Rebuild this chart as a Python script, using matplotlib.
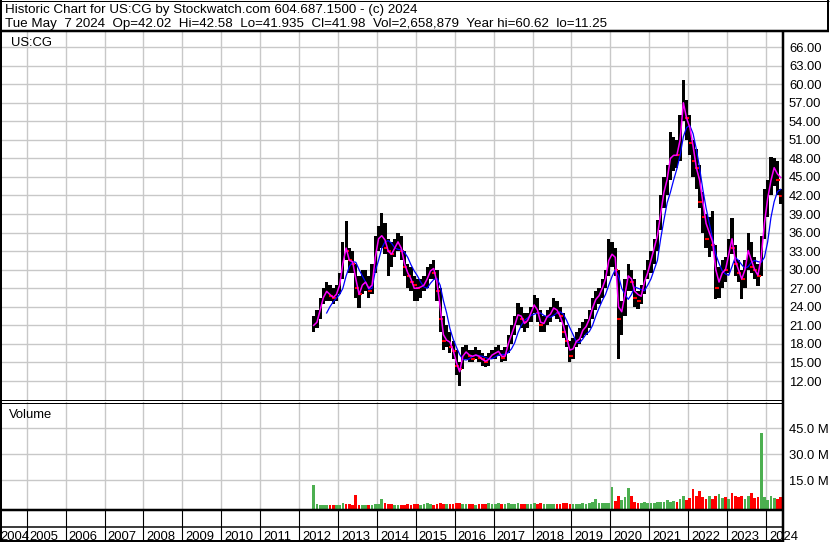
import numpy as np
import matplotlib
matplotlib.use("Agg")
import matplotlib.pyplot as plt
from matplotlib.lines import Line2D
from matplotlib.transforms import offset_copy

plt.rcParams['font.family'] = ['Liberation Sans', 'DejaVu Sans']

W, H = 830, 543

# monthly readings, May 2012 .. May 2024
first_year, first_month = 2012, 5

high = [22.5, 23.5, 25.5, 27.0, 28.0, 27.5, 27.0, 27.5,
        29.5, 34.5, 37.8, 33.5, 33.0, 31.0, 29.0, 30.0, 30.0, 29.0, 31.0, 35.5,
        37.0, 39.2, 37.5, 35.0, 34.5, 35.0, 36.0, 35.5, 33.0, 31.0, 30.5, 29.0,
        28.5, 28.5, 29.0, 30.5, 31.0, 31.6, 30.0, 27.0, 22.5, 21.0, 20.0, 18.5,
        17.0, 15.0, 17.5, 17.8, 17.0, 17.0, 17.5, 17.0, 16.5, 16.0, 16.5, 17.0,
        17.5, 17.8, 17.0, 17.5, 19.5, 21.0, 22.5, 24.6, 24.0, 23.0, 23.0, 24.0,
        25.9, 25.5, 23.5, 22.5, 23.5, 24.0, 25.4, 25.0, 24.0, 23.0, 21.0, 18.5,
        19.0, 20.0, 20.5, 21.5, 22.0, 23.5, 25.5, 26.5, 27.0, 28.5, 30.0, 34.9,
        34.5, 33.5, 30.0, 25.0, 28.5, 31.0, 30.0, 28.5, 26.5, 27.5, 30.0, 31.5,
        33.0, 35.0, 38.0, 42.0, 45.0, 47.0, 52.2, 51.5, 51.0, 55.0, 60.6, 57.5,
        55.0, 51.0, 49.5, 47.0, 42.5, 39.0, 38.5, 39.5, 34.0, 30.5, 31.5, 32.0,
        35.0, 38.4, 34.0, 31.5, 30.0, 31.5, 36.0, 34.5, 32.0, 31.0, 35.5, 43.0,
        44.5, 48.3, 48.0, 47.5, 43.0]

low = [20.0, 20.5, 22.0, 24.5, 25.0, 25.0, 24.5, 25.0,
       26.0, 28.5, 31.5, 29.5, 29.5, 25.5, 23.8, 26.0, 26.5, 25.5, 26.0, 29.5,
       33.0, 33.5, 32.5, 29.0, 30.5, 32.0, 33.0, 31.5, 29.0, 27.0, 26.5, 25.0,
       25.0, 25.5, 26.5, 27.0, 28.5, 28.5, 25.0, 20.0, 17.0, 17.5, 16.5, 15.5,
       13.0, 11.25, 14.0, 15.5, 15.0, 15.0, 15.5, 15.0, 14.5, 14.3, 14.5, 15.5,
       15.5, 16.0, 15.0, 15.2, 16.5, 18.0, 19.5, 21.0, 20.5, 20.0, 20.5, 21.5,
       23.0, 21.5, 20.0, 20.0, 21.0, 21.5, 22.5, 22.0, 21.5, 19.0, 17.5, 15.0,
       15.5, 17.5, 18.0, 19.0, 19.5, 20.5, 22.0, 23.5, 24.5, 25.5, 27.0, 29.0,
       30.5, 29.0, 15.5, 19.5, 22.5, 26.5, 26.5, 24.0, 23.6, 24.5, 26.0, 28.5,
       29.5, 31.0, 33.0, 36.5, 40.0, 42.0, 44.5, 46.0, 46.5, 47.5, 54.0, 51.0,
       48.5, 45.0, 43.0, 40.0, 36.0, 33.5, 32.0, 33.0, 25.3, 25.5, 27.0, 28.0,
       29.5, 32.5, 29.0, 28.0, 25.3, 27.0, 30.0, 29.5, 28.5, 27.4, 29.0, 35.0,
       38.5, 42.0, 43.5, 42.0, 40.6]

close = [21.0, 22.5, 24.5, 26.0, 26.5, 25.8, 25.5, 26.5,
         29.0, 33.5, 33.0, 31.5, 31.0, 27.0, 26.0, 28.0, 28.5, 26.5, 30.0, 34.5,
         35.0, 36.0, 33.5, 33.0, 32.5, 34.0, 34.0, 33.0, 30.5, 29.0, 28.0, 27.5,
         27.0, 27.5, 28.0, 29.5, 30.5, 29.5, 26.5, 22.0, 18.5, 19.5, 17.5, 16.8,
         14.5, 14.0, 16.5, 16.5, 16.0, 15.5, 16.5, 15.8, 15.5, 15.0, 16.0, 16.5,
         16.5, 16.8, 15.8, 17.0, 19.0, 20.0, 21.5, 23.0, 22.0, 21.5, 22.5, 23.0,
         25.0, 23.0, 21.0, 21.5, 22.5, 23.0, 24.0, 23.0, 22.5, 20.0, 18.5, 16.0,
         18.0, 19.0, 19.5, 21.0, 21.0, 22.5, 25.0, 25.5, 26.0, 28.0, 29.5, 32.0,
         32.5, 30.0, 22.0, 23.5, 27.0, 28.5, 28.0, 25.5, 25.0, 26.5, 29.5, 31.0,
         32.5, 34.0, 37.0, 41.0, 44.0, 46.0, 48.5, 49.0, 48.5, 53.0, 57.0, 54.5,
         50.5, 47.5, 46.5, 41.0, 38.5, 35.0, 36.0, 34.0, 27.0, 29.0, 30.5, 30.0,
         34.5, 33.5, 31.0, 29.5, 28.5, 30.5, 34.0, 30.5, 30.0, 29.0, 35.0, 40.5,
         42.0, 46.5, 46.5, 44.5, 41.98]

ma_fast = [21.0, 21.5, 23.5, 25.5, 26.5, 26.0, 25.5, 26.0,
           27.5, 31.0, 33.5, 31.5, 31.3, 28.5, 26.0, 27.5, 28.0, 27.0, 27.5, 32.0,
           35.0, 35.5, 34.8, 33.0, 32.5, 33.5, 34.5, 33.5, 31.0, 29.5, 28.5, 27.0,
           27.0, 27.2, 27.5, 28.5, 29.8, 30.2, 28.0, 24.0, 19.5, 18.6, 18.3, 17.0,
           15.0, 13.5, 16.0, 16.7, 16.2, 16.0, 16.2, 16.0, 15.5, 15.2, 15.5, 16.2,
           16.5, 16.8, 16.0, 16.0, 18.0, 19.5, 21.0, 22.7, 22.5, 21.3, 21.8, 23.0,
           24.3, 23.5, 21.5, 21.3, 22.4, 22.8, 23.8, 23.5, 22.5, 21.0, 19.0, 17.0,
           17.2, 18.4, 18.8, 20.2, 20.8, 22.0, 23.8, 25.2, 25.8, 27.0, 28.5, 31.5,
           32.5, 32.0, 24.0, 23.2, 26.0, 29.0, 28.5, 26.5, 26.0, 25.7, 28.0, 29.5,
           31.5, 33.5, 35.5, 39.0, 42.5, 44.6, 48.0, 48.5, 48.5, 51.0, 57.0, 54.5,
           53.0, 50.0, 46.5, 44.5, 41.0, 37.5, 36.0, 34.5, 30.0, 28.0, 29.5, 30.0,
           32.5, 35.0, 31.5, 30.0, 28.5, 30.0, 33.1, 31.5, 30.0, 29.1, 32.0, 37.5,
           41.5, 44.4, 46.5, 45.5, 44.9]

ma_slow = [np.nan, np.nan, np.nan, np.nan, 23.0, 24.0, 24.8, 25.4,
           26.0, 27.0, 29.0, 30.5, 31.3, 31.2, 30.0, 29.0, 28.0, 26.8, 27.0, 29.8,
           31.5, 33.5, 34.5, 34.7, 34.3, 33.5, 33.3, 33.2, 32.8, 32.0, 30.8, 29.8,
           29.0, 28.0, 27.2, 27.0, 27.8, 28.4, 28.6, 27.5, 25.0, 23.0, 20.5, 18.8,
           17.5, 16.3, 15.5, 15.4, 15.6, 16.0, 16.2, 16.1, 16.0, 15.8, 15.6, 15.6,
           15.9, 16.2, 16.3, 16.3, 16.6, 17.2, 18.2, 19.8, 21.0, 21.8, 22.2, 22.6,
           22.8, 23.0, 23.0, 22.6, 22.4, 22.3, 22.6, 23.0, 23.2, 22.8, 21.8, 20.6,
           19.5, 18.3, 18.2, 18.8, 19.6, 20.0, 21.0, 22.5, 23.8, 25.0, 26.0, 27.5,
           28.9, 30.0, 29.0, 27.0, 26.0, 25.2, 26.0, 27.2, 27.0, 26.8, 26.6, 27.5,
           28.5, 30.0, 31.5, 35.0, 38.0, 40.8, 42.5, 44.5, 46.3, 48.5, 51.5, 53.0,
           53.3, 52.0, 49.5, 46.5, 43.0, 40.0, 37.5, 35.0, 32.5, 31.0, 29.8, 29.3,
           29.1, 30.5, 32.0, 31.5, 30.8, 30.2, 30.5, 31.2, 31.5, 31.3, 31.2, 32.0,
           34.5, 38.4, 41.0, 42.6, 43.0]

volume_m = [12.0, 1.0, 0.5, 0.3, 0.3, 0.3, 0.3, 0.3,
            0.5, 1.5, 1.2, 1.0, 0.8, 6.5, 0.6, 0.5, 0.5, 0.6, 0.5, 1.0,
            1.0, 4.0, 1.5, 1.2, 1.0, 0.8, 0.8, 0.8, 0.8, 1.2, 0.8, 1.0,
            1.0, 0.8, 1.2, 1.5, 1.0, 0.8, 1.2, 1.8, 1.2, 1.0, 1.0, 1.3,
            1.5, 1.8, 1.2, 1.0, 1.0, 1.0, 0.8, 1.0, 1.2, 1.0, 1.5, 1.0,
            1.0, 1.8, 1.2, 1.0, 1.5, 1.0, 1.2, 1.5, 1.0, 1.2, 1.0, 1.0,
            1.5, 1.2, 1.5, 1.2, 1.0, 1.0, 1.2, 1.0, 1.0, 1.5, 1.8, 1.2,
            1.2, 1.0, 1.2, 1.5, 1.0, 1.5, 2.0, 4.0, 1.5, 1.5, 1.8, 1.5,
            10.8, 3.0, 5.5, 3.5, 5.0, 10.5, 6.0, 2.5, 1.5, 1.5, 2.0, 1.5,
            1.5, 1.8, 2.0, 2.5, 2.0, 3.5, 2.5, 3.0, 2.5, 4.0, 6.0, 3.5,
            4.5, 9.8, 6.0, 8.9, 5.0, 4.0, 5.5, 4.0, 5.5, 7.0, 4.5, 5.0,
            4.0, 7.5, 5.5, 5.0, 6.0, 4.0, 6.0, 7.5, 4.5, 5.0, 42.5, 5.0,
            3.5, 6.0, 4.5, 4.0, 5.0]

year_labels = [str(y) for y in range(2004, 2025)]
price_ticks = list(range(12, 67, 3))
volume_ticks = [15, 30, 45]

header_1 = "Historic Chart for US:CG by Stockwatch.com 604.687.1500 - (c) 2024"
header_2 = ("Tue May  7 2024  Op=42.02  Hi=42.58  Lo=41.935  Cl=41.98  "
            "Vol=2,658,879  Year hi=60.62  lo=11.25")

X_MIN, X_MAX = 2004.365, 2024.41
GRID = '#c8c8c8'
FS = 9.4
HEADER_FS = 9.65


def px_line(fig, x0, y0, x1, y1, lw_px=1.0):
    fig.add_artist(Line2D([x0 / W, x1 / W], [1 - y0 / H, 1 - y1 / H],
                          transform=fig.transFigure, color='black',
                          lw=lw_px * 0.72, solid_capstyle='butt'))


def clean_axes(ax):
    for s in ax.spines.values():
        s.set_visible(False)
    ax.set_xlim(X_MIN, X_MAX)
    ax.set_xticks(range(2005, 2025))
    ax.tick_params(axis='x', length=0, labelbottom=False)
    ax.grid(color=GRID, lw=1.0)
    ax.set_axisbelow(True)


n = len(high)
months = np.arange(n) + (first_month - 1)
t = first_year + months / 12 + 1 / 24
high, low, close = np.array(high), np.array(low), np.array(close)
prev = np.concatenate([[close[0]], close[:-1]])
down = close < prev

fig = plt.figure(figsize=(W / 100, H / 100), dpi=100)
fig.patch.set_facecolor('white')

# price panel
ax = fig.add_axes([2 / W, 1 - 400 / H, 780 / W, 369 / H])
clean_axes(ax)
ax.set_ylim(8.93, 68.6)
ax.yaxis.tick_right()
ax.set_yticks(price_ticks)
ax.set_yticklabels([f"{v:.2f}" for v in price_ticks])
ax.tick_params(axis='y', length=0, pad=5, labelsize=FS)
ax.bar(t, high - low, bottom=low, width=0.083, color='black', linewidth=0, zorder=2)
ax.plot(t[down] + 0.02, close[down], ls='none', marker='_', color='red',
        markersize=3, mew=1.5, zorder=3)
ax.plot(t, ma_slow, color='#0000ff', lw=0.9, zorder=4)
ax.plot(t, ma_fast, color='#ff00ff', lw=1.1, zorder=5)
ax.text(8.5 / 780, 1 - 15 / 369, "US:CG", transform=ax.transAxes,
        fontsize=FS, va='baseline', ha='left')

# volume panel
axv = fig.add_axes([2 / W, 1 - 509 / H, 780 / W, 107 / H])
clean_axes(axv)
vol_floor = -1.8
axv.set_ylim(vol_floor, 60.3)
axv.yaxis.tick_right()
axv.set_yticks(volume_ticks)
axv.set_yticklabels([f"{v:.1f} M" for v in volume_ticks])
axv.tick_params(axis='y', length=0, pad=5, labelsize=FS)
vol_colors = np.where(down, '#ff0000', '#4caf50')
axv.bar(t, np.array(volume_m) - vol_floor, bottom=vol_floor, width=0.07,
        color=vol_colors, linewidth=0, zorder=2)
axv.text(7 / 780, 1 - 16 / 107, "Volume", transform=axv.transAxes,
         fontsize=FS, va='baseline', ha='left')

# year strip
sx = fig.add_axes([2 / W, 1 - 541 / H, 780 / W, 32 / H])
sx.set_xlim(X_MIN, X_MAX)
sx.set_ylim(541, 509)
sx.axis('off')
for y in range(2005, 2025):
    sx.plot([y, y], [509, 541], color='black', lw=0.8)
shift = offset_copy(sx.transData, fig=fig, x=3, y=0, units='dots')
for lab in year_labels[1:]:
    sx.text(int(lab), 539.5, lab, transform=shift, fontsize=FS,
            va='baseline', ha='left', clip_on=False)
sx.text(-2 / 780, 1 - 30.5 / 32, year_labels[0], transform=sx.transAxes,
        fontsize=FS, va='baseline', ha='left')

# header
fig.text(5 / W, 1 - 13.5 / H, header_1, fontsize=HEADER_FS, va='baseline', ha='left')
fig.text(5 / W, 1 - 27 / H, header_2, fontsize=HEADER_FS, va='baseline', ha='left')

# frame lines
px_line(fig, 1, 0, 1, 542, 2)
px_line(fig, 0, 0.5, 829, 0.5, 1)
px_line(fig, 0, 30.5, 829, 30.5, 2.5)
px_line(fig, 828, 0, 828, 31, 2)
px_line(fig, 782.5, 31, 782.5, 542, 2.5)
px_line(fig, 0, 400, 782, 400, 1)
px_line(fig, 0, 402.5, 782, 402.5, 1)
px_line(fig, 0, 509.5, 782, 509.5, 2.5)
px_line(fig, 0, 527, 782, 527, 1.5)
px_line(fig, 0, 541, 782, 541, 2)

fig.savefig("out.png", dpi=100, facecolor='white')
